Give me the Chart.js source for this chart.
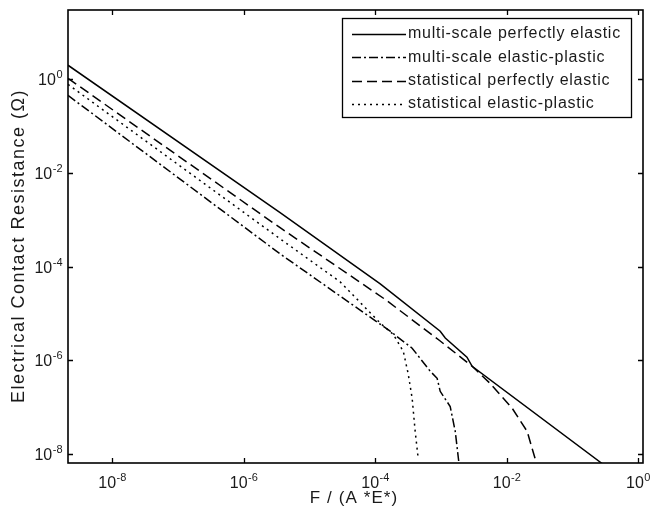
<!DOCTYPE html>
<html>
<head>
<meta charset="utf-8">
<script src="https://cdn.jsdelivr.net/npm/chart.js@4"></script>
<style>
  html, body { margin: 0; padding: 0; background: #fff; }
  #wrap { width: 651px; height: 513px; }
</style>
</head>
<body>
<div id="wrap"><canvas id="chart" width="651" height="513"></canvas></div>
<script>
// Valores (F / (A*E*) vs resistência de contato, log-log)
const SERIES_LABELS = [
  "multi-scale perfectly elastic",
  "multi-scale elastic-plastic",
  "statistical perfectly elastic",
  "statistical elastic-plastic",
];

const msElasticX = [2.14e-9, 3.6e-6, 1.2e-4, 9.8e-4, 1.17e-3, 2.5e-3, 3.0e-3, 0.284];
const msElasticY = [2.0, 1.42e-3, 4.3e-5, 4.2e-6, 3.0e-6, 1.17e-6, 7.5e-7, 6.3e-9];

const msPlasticX = [2.14e-9, 3.6e-6, 1.7e-4, 3.67e-4, 6.9e-4, 8.8e-4, 9.8e-4, 1.39e-3, 1.66e-3, 1.9e-3];
const msPlasticY = [0.454, 1.88e-4, 4.2e-6, 1.82e-6, 5.9e-7, 4.16e-7, 2.19e-7, 1.04e-7, 3.05e-8, 6.0e-9];

const stElasticX = [2.14e-9, 3.6e-6, 1.43e-4, 9.8e-4, 3.0e-3, 5.6e-3, 1.22e-2, 2.06e-2, 2.72e-2];
const stElasticY = [1.05, 6.8e-4, 2.0e-5, 2.6e-6, 7.5e-7, 3.25e-7, 9.5e-8, 3.05e-8, 8.0e-9];

const stPlasticX = [2.14e-9, 3.6e-6, 2.96e-5, 1.2e-4, 1.89e-4, 2.69e-4, 3.2e-4, 3.67e-4, 4.08e-4, 4.54e-4];
const stPlasticY = [0.78, 3.94e-4, 4.73e-5, 6.26e-6, 3.6e-6, 1.57e-6, 5.1e-7, 1.55e-7, 3.05e-8, 8.0e-9];

// Marcas dos eixos (potências de 10, expoentes pares)
const X_TICK_EXP = [-8, -6, -4, -2, 0];
const Y_TICK_EXP = [0, -2, -4, -6, -8];
const X_MIN = 2.14e-9, X_MAX = 1.19;
const Y_MIN = 6.46e-9, Y_MAX = 30.2;

const X_TITLE = "F / (A *E*)";
const Y_TITLE = "Electrical Contact Resistance (\u03A9)";

const INK = "#000";
const FONT = "'Liberation Sans', Arial, sans-serif";

function pares(xs, ys) {
  return xs.map((x, i) => ({ x, y: ys[i] }));
}

function serie(label, xs, ys, dash) {
  return {
    label,
    data: pares(xs, ys),
    borderColor: INK,
    borderWidth: 1.5,
    borderDash: dash,
    borderCapStyle: "butt",
    pointRadius: 0,
    tension: 0,
    fill: false,
  };
}

// Desenha caixa, ticks para dentro, rótulos 10^n, títulos e legenda
const molduraPlugin = {
  id: "moldura",
  afterDatasetsDraw(chart) {
    const { ctx, chartArea: a, scales } = chart;
    const sx = scales.x, sy = scales.y;
    ctx.save();

    ctx.strokeStyle = INK;
    ctx.lineWidth = 1.6;
    ctx.setLineDash([]);
    ctx.strokeRect(a.left, a.top, a.right - a.left, a.bottom - a.top);

    const TL = 5;
    ctx.lineWidth = 1.3;
    ctx.beginPath();
    X_TICK_EXP.forEach((e) => {
      const px = Math.round(sx.getPixelForValue(Math.pow(10, e))) + 0.5;
      ctx.moveTo(px, a.bottom); ctx.lineTo(px, a.bottom - TL);
      ctx.moveTo(px, a.top); ctx.lineTo(px, a.top + TL);
    });
    Y_TICK_EXP.forEach((e) => {
      const py = Math.round(sy.getPixelForValue(Math.pow(10, e))) + 0.5;
      ctx.moveTo(a.left, py); ctx.lineTo(a.left + TL, py);
      ctx.moveTo(a.right, py); ctx.lineTo(a.right - TL, py);
    });
    ctx.stroke();

    // rótulos 10^n com expoente elevado
    ctx.fillStyle = "#1a1a1a";
    ctx.textBaseline = "alphabetic";
    const base = "16px " + FONT, sup = "11px " + FONT;
    function medir(e) {
      ctx.font = base; const w1 = ctx.measureText("10").width;
      ctx.font = sup; const w2 = ctx.measureText(String(e)).width;
      return [w1, w2];
    }
    function rotulo(e, xEsq, yBase) {
      const [w1] = medir(e);
      ctx.font = base; ctx.textAlign = "left";
      ctx.fillText("10", xEsq, yBase);
      ctx.font = sup;
      ctx.fillText(String(e), xEsq + w1 + 0.5, yBase - 7);
    }
    X_TICK_EXP.forEach((e) => {
      const px = sx.getPixelForValue(Math.pow(10, e));
      const [w1, w2] = medir(e);
      rotulo(e, px - (w1 + w2) / 2, 488);
    });
    Y_TICK_EXP.forEach((e) => {
      const py = sy.getPixelForValue(Math.pow(10, e));
      const [w1, w2] = medir(e);
      rotulo(e, a.left - 6 - (w1 + w2), py + 6);
    });

    // títulos dos eixos
    ctx.font = "17px " + FONT;
    ctx.textAlign = "center";
    ctx.textBaseline = "middle";
    ctx.letterSpacing = "1.1px";
    ctx.fillText(X_TITLE, 354, 498);
    ctx.save();
    ctx.translate(19, 246);
    ctx.rotate(-Math.PI / 2);
    ctx.font = "18px " + FONT;
    ctx.letterSpacing = "1.5px";
    ctx.fillText(Y_TITLE, 0, 0);
    ctx.restore();

    // legenda
    const lx = 342, ly = 18, lw = 289, lh = 99;
    ctx.fillStyle = "#fff";
    ctx.fillRect(lx, ly, lw, lh);
    ctx.lineWidth = 1.3;
    ctx.strokeStyle = INK;
    ctx.strokeRect(lx + 0.5, ly + 0.5, lw, lh);
    ctx.font = "16px " + FONT;
    ctx.letterSpacing = "0.75px";
    ctx.textAlign = "left";
    ctx.textBaseline = "middle";
    chart.data.datasets.forEach((ds, i) => {
      const y = 34 + i * 23.3;
      ctx.strokeStyle = ds.borderColor;
      ctx.lineWidth = ds.borderWidth;
      ctx.setLineDash(ds.borderDash);
      ctx.beginPath();
      ctx.moveTo(352, Math.round(y) + 0.5);
      ctx.lineTo(406, Math.round(y) + 0.5);
      ctx.stroke();
      ctx.setLineDash([]);
      ctx.fillStyle = "#1a1a1a";
      ctx.fillText(ds.label, 408, y);
    });
    ctx.restore();
  },
};

new Chart(document.getElementById("chart"), {
  type: "line",
  data: {
    datasets: [
      serie(SERIES_LABELS[0], msElasticX, msElasticY, []),
      serie(SERIES_LABELS[1], msPlasticX, msPlasticY, [9, 3, 2, 3]),
      serie(SERIES_LABELS[2], stElasticX, stElasticY, [10, 5]),
      serie(SERIES_LABELS[3], stPlasticX, stPlasticY, [2, 4]),
    ],
  },
  options: {
    responsive: false,
    animation: false,
    layout: { padding: { left: 68, top: 10, right: 8, bottom: 50 } },
    scales: {
      x: { type: "logarithmic", min: X_MIN, max: X_MAX, display: false },
      y: { type: "logarithmic", min: Y_MIN, max: Y_MAX, display: false },
    },
    plugins: {
      legend: { display: false },
      tooltip: { enabled: false },
    },
  },
  plugins: [molduraPlugin],
});
</script>
</body>
</html>
